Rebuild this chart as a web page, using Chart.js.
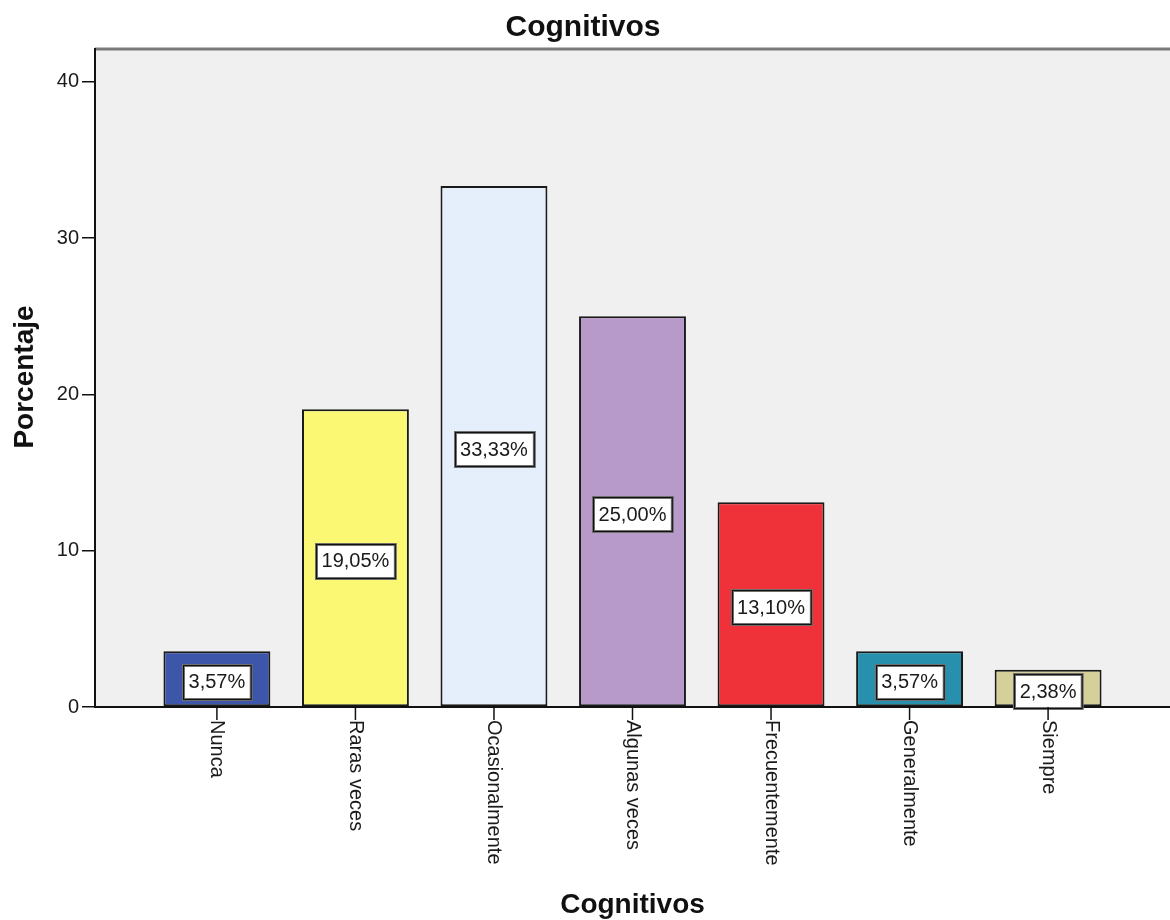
<!DOCTYPE html>
<html>
<head>
<meta charset="utf-8">
<script src="https://cdn.jsdelivr.net/npm/chart.js@4.4.1/dist/chart.umd.min.js"></script>
<style>
  html, body { margin: 0; padding: 0; background: #ffffff; }
  #wrap { width: 1170px; height: 920px; }
</style>
</head>
<body>
<div id="wrap"><canvas id="c" width="1170" height="920"></canvas></div>
<script>
const categories = ["Nunca", "Raras veces", "Ocasionalmente", "Algunas veces", "Frecuentemente", "Generalmente", "Siempre"];
const percentValues = [3.57, 19.05, 33.33, 25.00, 13.10, 3.57, 2.38];
const percentLabels = ["3,57%", "19,05%", "33,33%", "25,00%", "13,10%", "3,57%", "2,38%"];
const barColors = ["#3D56A9", "#FBF874", "#E4EFFB", "#B89ACA", "#EF323A", "#2790AD", "#D5D09A"];
const yTicks = [0, 10, 20, 30, 40];
const chartTitle = "Cognitivos";
const xTitle = "Cognitivos";
const yTitle = "Porcentaje";

const FONT = '"Liberation Sans", Arial, Helvetica, sans-serif';

const points = percentValues.map((v, i) => ({ x: i, y: v }));

const decorPlugin = {
  id: 'decor',
  beforeDraw(chart) {
    const { ctx, chartArea: a } = chart;
    ctx.save();
    ctx.fillStyle = '#F0F0F0';
    ctx.fillRect(a.left, a.top, a.right - a.left, a.bottom - a.top);
    ctx.strokeStyle = '#7A7A7A';
    ctx.lineWidth = 3;
    ctx.beginPath();
    ctx.moveTo(a.left, a.top);
    ctx.lineTo(a.right, a.top);
    ctx.stroke();
    ctx.restore();
  },
  afterDraw(chart) {
    const { ctx, chartArea: a } = chart;
    const xs = chart.scales.x;
    ctx.save();
    ctx.strokeStyle = '#111';
    ctx.lineWidth = 1.5;
    ctx.fillStyle = '#1a1a1a';
    ctx.font = '20px ' + FONT;
    categories.forEach((lab, i) => {
      const px = xs.getPixelForValue(i);
      ctx.beginPath();
      ctx.moveTo(px, a.bottom);
      ctx.lineTo(px, a.bottom + 13);
      ctx.stroke();
      ctx.save();
      ctx.translate(px, a.bottom + 13);
      ctx.rotate(Math.PI / 2);
      ctx.textAlign = 'left';
      ctx.textBaseline = 'middle';
      ctx.fillText(lab, 0, 0);
      ctx.restore();
    });
    ctx.fillStyle = '#111';
    ctx.textAlign = 'center';
    ctx.textBaseline = 'alphabetic';
    ctx.font = 'bold 30px ' + FONT;
    ctx.fillText(chartTitle, chart.width / 2 - 2, 36);
    ctx.font = 'bold 28px ' + FONT;
    ctx.fillText(xTitle, (a.left + a.right) / 2, 913);
    ctx.save();
    ctx.translate(33, 377);
    ctx.rotate(-Math.PI / 2);
    ctx.fillText(yTitle, 0, 0);
    ctx.restore();
    ctx.restore();
  },
  afterDatasetsDraw(chart) {
    const { ctx } = chart;
    const meta = chart.getDatasetMeta(0);
    ctx.save();
    ctx.font = '20px ' + FONT;
    meta.data.forEach((bar, i) => {
      const text = percentLabels[i];
      const tw = ctx.measureText(text).width;
      const w = tw + 11;
      const h = 34;
      const cx = bar.x;
      const cy = (bar.y + bar.base) / 2 + 3;
      const x0 = Math.round(cx - w / 2) + 0.5;
      const y0 = Math.round(cy - h / 2) + 0.5;
      ctx.fillStyle = '#ffffff';
      ctx.fillRect(x0, y0, w, h);
      ctx.strokeStyle = '#6f6f6f';
      ctx.lineWidth = 3;
      ctx.strokeRect(x0, y0, w, h);
      ctx.strokeStyle = '#111';
      ctx.lineWidth = 1;
      ctx.strokeRect(x0, y0, w, h);
      ctx.fillStyle = '#1a1a1a';
      ctx.textAlign = 'center';
      ctx.textBaseline = 'middle';
      ctx.fillText(text, cx, cy + 1);
    });
    ctx.restore();
  }
};

new Chart(document.getElementById('c'), {
  type: 'bar',
  data: {
    datasets: [{
      data: points,
      backgroundColor: barColors,
      borderColor: '#1a1a1a',
      borderWidth: 2,
      borderSkipped: false,
      barPercentage: 0.877,
      categoryPercentage: 1.0
    }]
  },
  options: {
    responsive: false,
    animation: false,
    events: [],
    layout: { padding: { top: 49, left: 0, right: 0, bottom: 0 } },
    plugins: { legend: { display: false }, title: { display: false }, tooltip: { enabled: false } },
    scales: {
      x: {
        type: 'linear',
        offset: false,
        min: -0.88,
        max: 6.88,
        grid: { display: false, offset: false },
        ticks: { display: false },
        border: { display: true, color: '#111', width: 2 },
        afterFit(scale) { scale.height = 213; }
      },
      y: {
        type: 'linear',
        min: 0,
        max: 42.1,
        afterBuildTicks(scale) { scale.ticks = yTicks.map(v => ({ value: v })); },
        ticks: {
          includeBounds: false,
          color: '#1a1a1a',
          font: { family: FONT, size: 20 },
          padding: 3,
          callback: (v) => String(v)
        },
        grid: { display: true, drawOnChartArea: false, drawTicks: true, tickLength: 13, color: '#111', lineWidth: 1.5 },
        border: { display: true, color: '#111', width: 2 },
        afterFit(scale) { scale.width = 95; }
      }
    }
  },
  plugins: [decorPlugin]
});
</script>
</body>
</html>
